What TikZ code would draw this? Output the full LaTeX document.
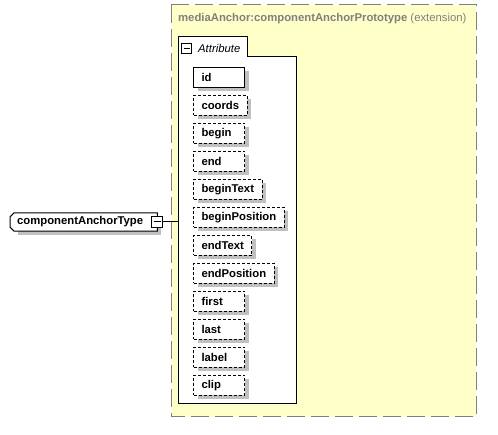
\documentclass[tikz,border=0pt]{standalone}
\usepackage{fontspec}
\setmainfont{Liberation Sans}
\usetikzlibrary{shadows}
\definecolor{bgyellow}{RGB}{255,255,200}
\definecolor{framegray}{RGB}{128,128,128}
\definecolor{shadowgray}{RGB}{192,192,192}
\begin{document}
\begin{tikzpicture}[x=1pt,y=-1pt,
  every node/.style={font=\fontsize{11.3}{13}\selectfont},
  attr/.style={draw=black, line width=1pt, fill=white, anchor=north west,
    font=\fontsize{11.3}{13}\selectfont\bfseries, inner xsep=8pt, inner ysep=0pt,
    minimum height=20pt, align=left,
    drop shadow={shadow xshift=4pt, shadow yshift=-4pt, fill=shadowgray, opacity=1}},
  opt/.style={attr, dash pattern=on 3pt off 2pt},
  short/.style={text width=35pt},
  minusbox/.style={draw=black, line width=1pt, fill=white, minimum size=#1, inner sep=0pt,
    path picture={\draw[line width=1pt] ([xshift=2pt]path picture bounding box.west) -- ([xshift=-2pt]path picture bounding box.east);}},
]
\useasboundingbox (0,0) rectangle (498,435);
% extension frame
\draw[framegray, line width=1pt, fill=bgyellow, dash pattern=on 18pt off 6pt] (171,5) rectangle (476,417);
\node[anchor=west, inner sep=0pt, text=framegray] (title) at (178,19)
  {\textbf{mediaAnchor:componentAnchorPrototype} (extension)};
% attribute group
\draw[line width=1pt, fill=white] (178,37) -- (247,37) -- (247,57) -- (296,57) -- (296,404) -- (178,404) -- cycle;
\node[minusbox=10pt] (gminus) at (186.5,48.5) {};
\node[anchor=west, inner sep=0pt, font=\fontsize{11.3}{13}\selectfont\itshape] (glabel) at (198,48.5) {Attribute};
\coordinate (gleft) at (178,222);
% attributes
\node[attr, short] (a1) at (193,67) {id};
\node[opt] (a2) at (193,95) {coords};
\node[opt, short] (a3) at (193,123) {begin};
\node[opt, short] (a4) at (193,151) {end};
\node[opt] (a5) at (193,179) {beginText};
\node[opt] (a6) at (193,207) {beginPosition};
\node[opt] (a7) at (193,235) {endText};
\node[opt] (a8) at (193,263) {endPosition};
\node[opt, short] (a9) at (193,291) {first};
\node[opt, short] (a10) at (193,319) {last};
\node[opt, short] (a11) at (193,347) {label};
\node[opt, short] (a12) at (193,375) {clip};
% component type
\node[anchor=west, text width=133pt, align=left,
  inner xsep=7pt, inner ysep=0pt, minimum height=18pt]
  (ctype) at (10,222) {};
\fill[shadowgray] ([shift={(8pt,-4pt)}]ctype.north west) -- ([shift={(4pt,-4pt)}]ctype.north east)
  -- ([shift={(4pt,-4pt)}]ctype.south east) -- ([shift={(8pt,-4pt)}]ctype.south west) -- cycle;
\draw[line width=1pt, fill=white] ([xshift=4pt]ctype.north west) -- (ctype.north east) -- (ctype.south east)
  -- ([xshift=4pt]ctype.south west) -- ([yshift=4pt]ctype.south west) -- ([yshift=-4pt]ctype.north west) -- cycle;
\node[anchor=west, inner sep=0pt, font=\fontsize{11.3}{13}\selectfont\bfseries] (ctext) at (17,222) {componentAnchorType};
\node[minusbox=11pt] (cminus) at (157,222) {};
\draw[line width=1pt] (cminus.east) -- (gleft);
\end{tikzpicture}
\end{document}
